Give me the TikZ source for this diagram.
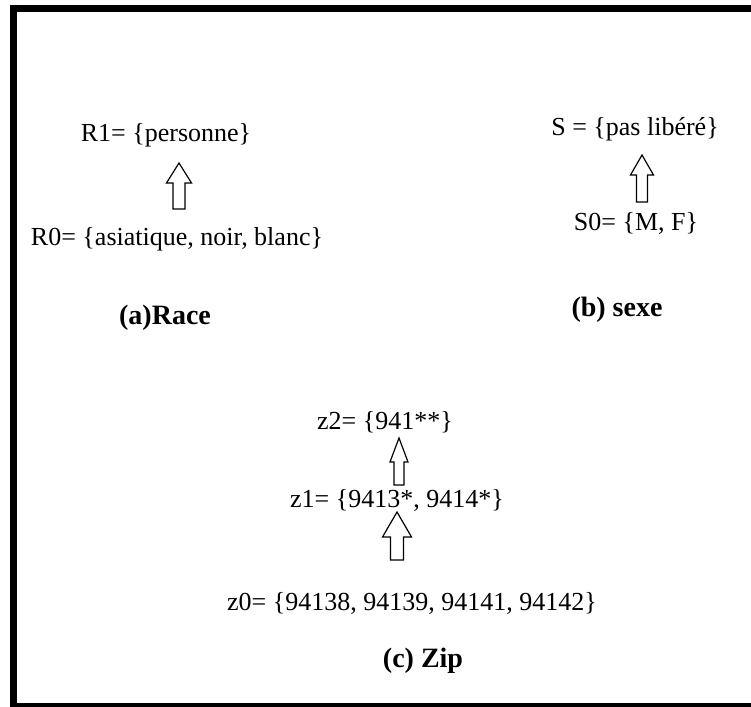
\documentclass[tikz,border=0pt]{standalone}
\usepackage{fontspec}
\setmainfont{Liberation Serif}
\begin{document}
\begin{tikzpicture}[x=1pt,y=-1pt,
  lbl/.style={inner sep=0pt,font=\fontsize{26}{30}\selectfont},
  captxt/.style={inner sep=0pt,font=\fontsize{28}{32}\selectfont\bfseries},
  blockarrow/.style={draw=black,line width=1.2pt,fill=white,line join=miter}]
\useasboundingbox (0,0) rectangle (751,706);
\begin{scope}
\clip (0,0) rectangle (751,706);
\draw[line width=7pt] (13.5,8.5) rectangle (780,706.5);
\end{scope}
% (a) Race
\node[lbl] (r1) at (166,135) {R1= \{personne\}};
\node[lbl] (r0) at (177,239) {R0= \{asiatique, noir, blanc\}};
\node[captxt] (ca) at (165,318) {(a)Race};
% (b) sexe
\node[lbl] (s) at (635,129) {S = \{pas libéré\}};
\node[lbl] (s0) at (636,223) {S0= \{M, F\}};
\node[captxt] (cb) at (617,310) {(b) sexe};
% (c) Zip
\node[lbl] (z2) at (385,422) {z2= \{941**\}};
\node[lbl] (z1) at (397,500) {z1= \{9413*, 9414*\}};
\node[lbl] (z0) at (412,603) {z0= \{94138, 94139, 94141, 94142\}};
\node[captxt] (cc) at (423,661) {(c) Zip};
% block arrows: (bottom centre) then relative outline
\coordinate (a1) at (179,209);
\draw[blockarrow] (a1) ++(-6,0) -- ++(0,-26) -- ++(-6.5,0) -- ++(12.5,-20) -- ++(12.5,20) -- ++(-6.5,0) -- ++(0,26) -- cycle;
\coordinate (a2) at (642,202);
\draw[blockarrow] (a2) ++(-5.5,0) -- ++(0,-27) -- ++(-6,0) -- ++(11.5,-20) -- ++(11.5,20) -- ++(-6,0) -- ++(0,27) -- cycle;
\coordinate (a3) at (399,485);
\draw[blockarrow] (a3) ++(-5,0) -- ++(0,-23) -- ++(-4,0) -- ++(9,-24) -- ++(9,24) -- ++(-4,0) -- ++(0,23) -- cycle;
\coordinate (a4) at (397,560);
\draw[blockarrow] (a4) ++(-6.5,0) -- ++(0,-23) -- ++(-8,0) -- ++(14.5,-25) -- ++(14.5,25) -- ++(-8,0) -- ++(0,23) -- cycle;
\end{tikzpicture}
\end{document}
